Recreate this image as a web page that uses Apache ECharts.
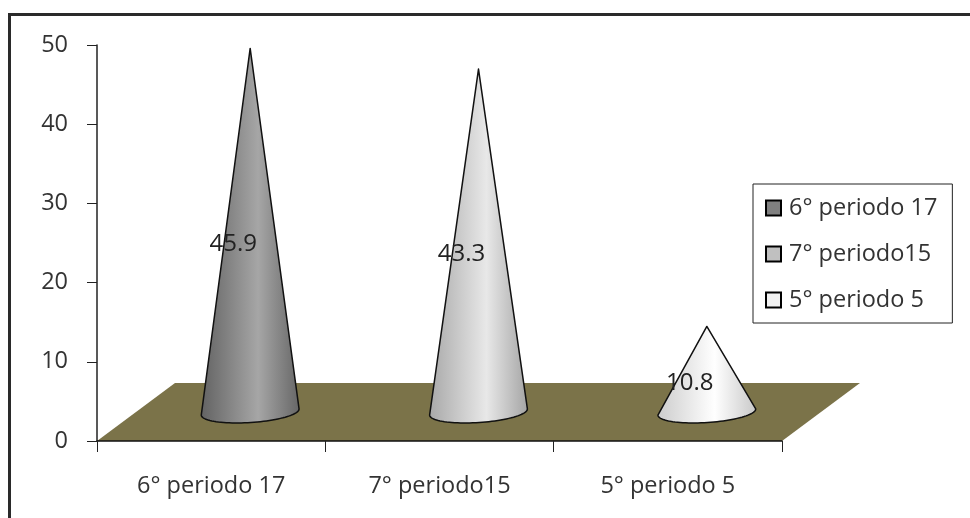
<!DOCTYPE html>
<html><head><meta charset="utf-8">
<style>html,body{margin:0;padding:0;background:#fff}#c{width:970px;height:518px}</style>
<script src="https://cdn.jsdelivr.net/npm/echarts@6/dist/echarts.min.js"></script>
</head><body><div id="c"></div>
<script>
const categories = ['6° periodo 17', '7° periodo15', '5° periodo 5'];
const values = [45.9, 43.3, 10.8];
const yTicks = { min: 0, max: 50, interval: 10 };
const legendColors = ['#808080', '#c0c0c0', '#f2f2f2'];
const coneStops = [
  ['#626262', '#a6a6a6', '#666666'],
  ['#a8a8a8', '#e8e8e8', '#a4a4a4'],
  ['#cccccc', '#ffffff', '#c8c8c8']
];
const FONT = 'Open Sans';
const DX = 39, DY = 29, RX = 49, RY = 10.5, TILT = -0.065;

function coneItem(i) {
  return function (params, api) {
    const base = api.coord([api.value(0), 0]);
    const top = api.coord([api.value(0), api.value(1)]);
    const cx = base[0] + DX, cy = base[1] - DY;
    const tipY = top[1] - DY;
    const pts = [[cx, tipY]];
    for (let k = 0; k <= 48; k++) {
      const t = Math.PI * k / 48;
      const ex = RX * Math.cos(t), ey = RY * Math.sin(t);
      pts.push([cx + ex * Math.cos(TILT) - ey * Math.sin(TILT), cy + ex * Math.sin(TILT) + ey * Math.cos(TILT)]);
    }
    const s = coneStops[i];
    return {
      type: 'group',
      children: [
        { type: 'polygon', shape: { points: pts },
          style: { stroke: '#111', lineWidth: 1.5, lineJoin: 'round',
            fill: new echarts.graphic.LinearGradient(0, 0, 1, 0, [
              { offset: 0, color: s[0] }, { offset: 0.58, color: s[1] }, { offset: 1, color: s[2] }]) } },
        { type: 'text', z2: 5, style: {
            x: base[0] + 22, y: (base[1] + top[1]) / 2 - 15,
            text: api.value(1).toFixed(1), align: 'center', verticalAlign: 'middle',
            fill: '#222', font: '24px "' + FONT + '"' } }
      ]
    };
  };
}

function floorItem(params, api) {
  const band = api.size([1, 0])[0];
  const l = api.coord([0, 0]), r = api.coord([categories.length - 1, 0]);
  const x0 = l[0] - band / 2, x1 = r[0] + band / 2, y = l[1];
  return { type: 'polygon',
    shape: { points: [[x0, y], [x0 + DX * 2, y - DY * 2], [x1 + DX * 2, y - DY * 2], [x1, y]] },
    style: { fill: '#7b7349' } };
}

const series = [{
  type: 'custom', name: 'floor', silent: true, z: 1,
  data: [[0, 0]], encode: { x: 0, y: 1 }, renderItem: floorItem
}].concat(categories.map((name, i) => ({
  type: 'custom', name: name, z: 3,
  itemStyle: { color: legendColors[i], borderColor: '#000', borderWidth: 1.5 },
  data: [[i, values[i]]], encode: { x: 0, y: 1 }, renderItem: coneItem(i)
})));

const chart = echarts.init(document.getElementById('c'), null, { renderer: 'canvas' });
chart.setOption({
  animation: false,
  backgroundColor: '#fff',
  grid: { left: 97, top: 45, width: 685, height: 396 },
  xAxis: { type: 'category', data: categories, z: 4,
    axisLine: { lineStyle: { color: '#111', width: 1.5 } },
    axisTick: { show: true, length: 11, lineStyle: { color: '#222', width: 1 } },
    axisLabel: { color: '#333', fontFamily: FONT, fontSize: 23.5, margin: 33 } },
  yAxis: { type: 'value', min: yTicks.min, max: yTicks.max, interval: yTicks.interval, z: 4,
    splitLine: { show: false },
    axisLine: { show: true, lineStyle: { color: '#222', width: 1.5 } },
    axisTick: { show: true, length: 10, lineStyle: { color: '#222', width: 1 } },
    axisLabel: { color: '#333', fontFamily: FONT, fontSize: 23.5, margin: 29, padding: [4, 0, 0, 0] } },
  legend: { show: true, orient: 'vertical', left: 753, top: 184,
    data: categories, backgroundColor: '#fff', borderColor: '#222', borderWidth: 1,
    padding: [12, 15, 11, 12], itemGap: 22, itemWidth: 15, itemHeight: 15, icon: 'rect',
    selectedMode: false, textStyle: { color: '#333', fontFamily: FONT, fontSize: 23.5, padding: [0, 0, 0, 3] } },
  graphic: [{ type: 'rect', silent: true, z: -1,
    shape: { x: 9.5, y: 14.5, width: 1100, height: 700 },
    style: { fill: 'none', stroke: '#2a2a2a', lineWidth: 3 } }],
  series: series
});
</script></body></html>
